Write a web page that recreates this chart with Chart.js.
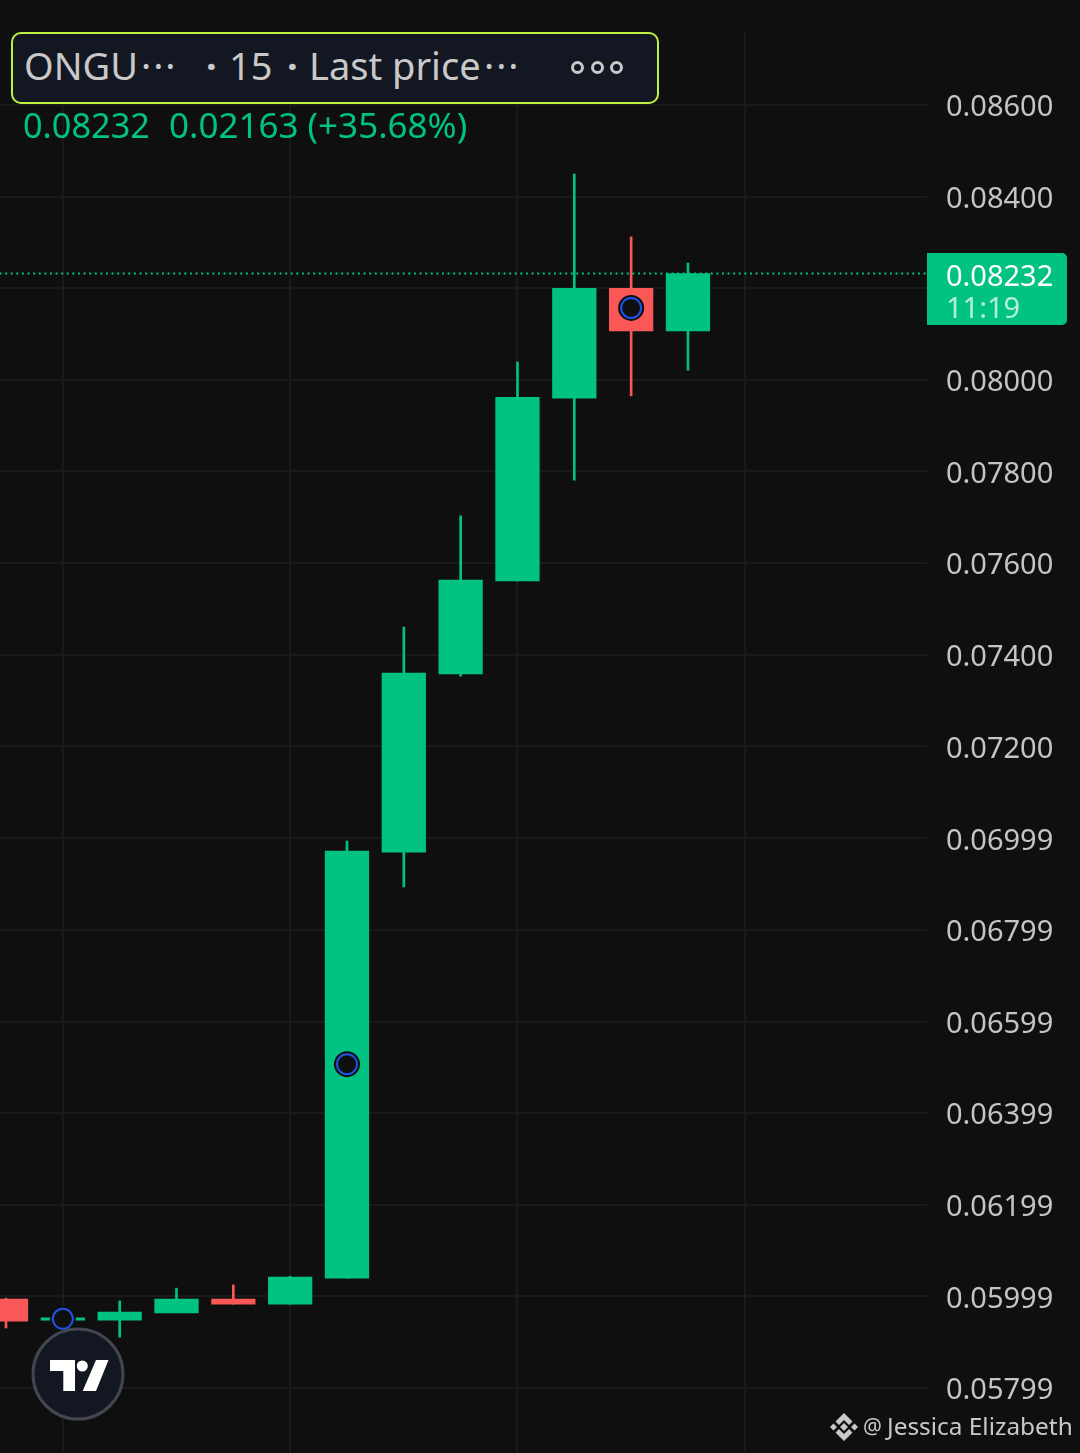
<!DOCTYPE html>
<html>
<head>
<meta charset="utf-8">
<title>ONGUSDT 15</title>
<script src="https://cdn.jsdelivr.net/npm/chart.js@4"></script>
<style>
    html, body { margin: 0; padding: 0; background: #0f0f0f; }
    body { position: relative; width: 1080px; height: 1453px; overflow: hidden; font-family: "Noto Sans", sans-serif; }
    canvas { position: absolute; left: 0; top: 0; }
    .abs { position: absolute; white-space: nowrap; line-height: 1; }
    #pill { left: 11px; top: 32px; width: 644px; height: 68px; border: 2px solid #bdf240; border-radius: 10px; background: #131722; }
    .pillText { color: #c9c9c9; font-size: 38px; top: 46px; }
    .ell { letter-spacing: 2px; }
    .sep { font-weight: bold; }
    .ring { width: 7px; height: 7px; top: 61px; border: 3px solid #c9c9c9; border-radius: 50%; }
    .values { top: 107px; color: #00c382; font-size: 35px; }
    #tag { left: 927px; top: 253px; width: 140px; height: 72px; background: #00c382; border-radius: 0 5px 5px 0; }
    #tagPrice { left: 946px; top: 260px; color: #fff; font-size: 29px; }
    #tagTime { left: 946px; top: 292px; color: #b5efda; font-size: 29px; }
    #badge { left: 0; top: 1320px; }
    .credit { top: 1414px; color: #c9c9c9; font-size: 24.4px; }
    #binance { left: 830px; top: 1413px; }
</style>
</head>
<body>
<canvas id="chart" width="1080" height="1453"></canvas>

<div id="pill" class="abs"></div>
<span class="abs pillText" style="left:24px">ONGU</span>
<span class="abs pillText ell" style="left:141px">···</span>
<span class="abs pillText sep" style="left:206px">·</span>
<span class="abs pillText" style="left:229px">15</span>
<span class="abs pillText sep" style="left:287px">·</span>
<span class="abs pillText" style="left:309px">Last price</span>
<span class="abs pillText ell" style="left:484px">···</span>
<div class="abs ring" style="left:571px"></div>
<div class="abs ring" style="left:591px"></div>
<div class="abs ring" style="left:610px"></div>
<span class="abs values" style="left:23px;font-size:34.3px;top:108px">0.08232</span>
<span class="abs values" style="left:169px">0.02163 (+35.68%)</span>

<div id="tag" class="abs"></div>
<div id="tagPrice" class="abs">0.08232</div>
<div id="tagTime" class="abs">11:19</div>

<svg id="badge" class="abs" width="160" height="110">
    <circle cx="78" cy="54" r="45" fill="#131722" stroke="#434651" stroke-width="3"/>
    <path d="M50 40H75V71H63.3V51H50Z" fill="#fff"/>
    <circle cx="82.3" cy="46" r="5.5" fill="#fff"/>
    <path d="M96 40H108.5L96 71H82.7Z" fill="#fff"/>
</svg>

<svg id="binance" class="abs" width="28" height="28" viewBox="0 0 28 28" fill="#c9c9c9">
    <path d="M14 0L22.5 8.5L19 12L14 7L9 12L5.5 8.5Z"/>
    <path d="M14 28L22.5 19.5L19 16L14 21L9 16L5.5 19.5Z"/>
    <path d="M3.5 10.5L7 14L3.5 17.5L0 14Z"/>
    <path d="M24.5 10.5L28 14L24.5 17.5L21 14Z"/>
    <path d="M14 10L18 14L14 18L10 14Z"/>
</svg>
<span class="abs credit" style="left:863px;top:1416px;font-size:21px">@</span>
<span class="abs credit" style="left:887px">Jessica Elizabeth</span>

<script>
// --- candles, oldest first ---
const opens  = [0.05993, 0.05947, 0.05947, 0.05963, 0.05993, 0.05982, 0.06039, 0.06969, 0.07358, 0.07561, 0.07960, 0.08200, 0.08107];
const closes = [0.05945, 0.05952, 0.05965, 0.05993, 0.05982, 0.06041, 0.06971, 0.07360, 0.07563, 0.07962, 0.08200, 0.08107, 0.08232];
const highs  = [0.05995, 0.05952, 0.05989, 0.06017, 0.06024, 0.06043, 0.06993, 0.07460, 0.07703, 0.08039, 0.08449, 0.08312, 0.08255];
const lows   = [0.05930, 0.05915, 0.05910, 0.05963, 0.05982, 0.05982, 0.06039, 0.06893, 0.07353, 0.07561, 0.07781, 0.07965, 0.08021];

// --- blue event markers ---
const markerCandles = [1, 6, 11];
const markerPrices  = [0.05950, 0.06506, 0.08157];

const lastPrice = 0.08232;

// --- axis ticks ---
const priceTicks = [0.086, 0.084, 0.082, 0.080, 0.078, 0.076, 0.074, 0.072, 0.06999, 0.06799, 0.06599, 0.06399, 0.06199, 0.05999, 0.05799];
const priceTickLabels = ['0.08600', '0.08400', '', '0.08000', '0.07800', '0.07600', '0.07400', '0.07200', '0.06999', '0.06799', '0.06599', '0.06399', '0.06199', '0.05999', '0.05799'];
const timeGridCandles = [1, 5, 9, 13];

const GREEN = '#00c382';
const RED = '#fa5757';
const BG = '#0f0f0f';
const GRID = '#1a1a1a';

const candleColors = opens.map((o, i) => closes[i] >= o ? GREEN : RED);

// axes must reach the canvas edge, so drop the room kept for half a label
function noEdgePadding(scale) {
    scale.paddingLeft = 0;
    scale.paddingRight = 0;
    scale.paddingTop = 0;
    scale.paddingBottom = 0;
}

new Chart(document.getElementById('chart'), {
    type: 'bar',
    data: {
        datasets: [
            {
                // last price dotted line
                type: 'line',
                data: [{ x: -1, y: lastPrice }, { x: 17, y: lastPrice }],
                borderColor: GREEN,
                borderWidth: 2,
                borderDash: [2, 3.6],
                pointRadius: 0,
                order: 5
            },
            {
                // wicks
                data: highs.map((h, i) => ({ x: i, y: [lows[i], h] })),
                backgroundColor: candleColors,
                barThickness: 2,
                grouped: false,
                borderSkipped: false,
                order: 4
            },
            {
                // bodies
                data: opens.map((o, i) => ({ x: i, y: [o, closes[i]] })),
                backgroundColor: candleColors,
                barThickness: 43.6,
                grouped: false,
                borderSkipped: false,
                order: 3
            },
            {
                // dark halo round the markers
                type: 'scatter',
                data: markerCandles.map((c, i) => ({ x: c, y: markerPrices[i] })),
                pointStyle: 'circle',
                pointRadius: 13,
                pointBackgroundColor: BG,
                pointBorderWidth: 0,
                order: 2
            },
            {
                type: 'scatter',
                data: markerCandles.map((c, i) => ({ x: c, y: markerPrices[i] })),
                pointStyle: 'circle',
                pointRadius: 10,
                pointBackgroundColor: BG,
                pointBorderColor: '#1e53e5',
                pointBorderWidth: 2,
                order: 1
            }
        ]
    },
    options: {
        responsive: false,
        animation: false,
        devicePixelRatio: 1,
        layout: { autoPadding: false, padding: { top: 32, left: 0, right: 0, bottom: 0 } },
        plugins: { legend: { display: false }, tooltip: { enabled: false } },
        scales: {
            x: {
                type: 'linear',
                offset: false,
                min: -0.1056,
                max: 16.206,
                afterBuildTicks: scale => { scale.ticks = timeGridCandles.map(v => ({ value: v })); },
                afterFit: scale => { scale.height = 0; noEdgePadding(scale); },
                ticks: { display: false },
                border: { display: false },
                grid: { color: GRID, lineWidth: 2, drawTicks: false, offset: false }
            },
            y: {
                type: 'linear',
                position: 'right',
                min: 0.056571,
                max: 0.087594,
                afterBuildTicks: scale => { scale.ticks = priceTicks.map(v => ({ value: v })); },
                afterFit: scale => { scale.width = 153; noEdgePadding(scale); },
                ticks: {
                    autoSkip: false,
                    padding: 19,
                    color: '#c4c4c4',
                    // empty first line + 6px line height pushes the text 3px down onto the grid line
                    font: { family: '"Noto Sans"', size: 29, lineHeight: '6px' },
                    callback: (value, i) => ['', priceTickLabels[i]]
                },
                border: { display: false },
                grid: { color: GRID, lineWidth: 2, drawTicks: false }
            }
        }
    }
});
</script>
</body>
</html>
